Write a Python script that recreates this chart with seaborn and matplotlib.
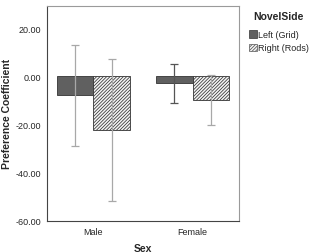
import matplotlib
matplotlib.use("Agg")
import matplotlib.pyplot as plt
import seaborn as sns
import pandas as pd
import numpy as np
from matplotlib.patches import Patch

sex = ["Male", "Female"]
novel_side = ["Left (Grid)", "Right (Rods)"]
means_left = [-7.9, -3.0]
means_right = [-22.3, -10.0]
err_hi_left = [13.1, 5.2]
err_lo_left = [-28.9, -11.1]
err_hi_right = [7.1, 0.4]
err_lo_right = [-51.9, -20.3]
yticks = [20, 0, -20, -40, -60]

sns.set_style("white")
plt.rcParams['font.family'] = ['Liberation Sans', 'DejaVu Sans']
plt.rcParams['hatch.linewidth'] = 0.55

df = pd.DataFrame({
    "Sex": sex * 2,
    "NovelSide": [novel_side[0]] * 2 + [novel_side[1]] * 2,
    "Value": means_left + means_right,
})

HATCH = "//////////"

fig = plt.figure(figsize=(3.09, 2.53), dpi=100)
ax = fig.add_axes([47.3 / 309, 1 - 221.7 / 253, (239 - 47.3) / 309, (221.7 - 6.7) / 253])

sns.barplot(data=df, x="Sex", y="Value", hue="NovelSide", order=sex,
            hue_order=novel_side, palette=["#606060", "#f4f4f4"],
            errorbar=None, width=0.74, edgecolor="#333333", linewidth=0.6,
            legend=False, ax=ax)

conts = list(ax.containers)
for bar in conts[1]:
    bar.set_hatch(HATCH)

# error bars
lows = [err_lo_left, err_lo_right]
highs = [err_hi_left, err_hi_right]
ecolors = [["#a8a8a8", "#555555"], ["#a8a8a8", "#a8a8a8"]]
for k, cont in enumerate(conts):
    for j, bar in enumerate(cont):
        xc = bar.get_x() + bar.get_width() / 2
        lo, hi = lows[k][j], highs[k][j]
        ax.errorbar([xc], [(lo + hi) / 2], yerr=[[(hi - lo) / 2]], fmt="none",
                    ecolor=ecolors[k][j], elinewidth=0.9, capsize=3.2, capthick=0.9)

ax.set_ylim(-60, 29.3)
ax.set_xlim(-0.463, 1.466)
ax.set_yticks(yticks)
ax.set_yticklabels([f"{v:.2f}" for v in yticks], fontsize=6.5)
ax.set_xticks([0, 1])
ax.set_xticklabels(sex, fontsize=6.5)
ax.tick_params(axis="both", length=3, width=0.8, color="#555555", pad=1.5)
ax.set_xlabel("Sex", fontsize=7.5, fontweight="bold")
ax.set_ylabel("Preference Coefficient", fontsize=7.5, fontweight="bold")
ax.xaxis.set_label_coords(0.499, -0.106)
ax.yaxis.set_label_coords(-0.186, 0.503)
for s in ax.spines.values():
    s.set_color("#9a9a9a")
    s.set_linewidth(0.8)
ax.spines["left"].set_color("#444444")
ax.spines["bottom"].set_color("#444444")

handles = [Patch(facecolor="#606060", edgecolor="#333333", linewidth=0.5),
           Patch(facecolor="#f4f4f4", edgecolor="#555555", hatch=HATCH, linewidth=0.5)]
leg = fig.legend(handles, novel_side, title="NovelSide", loc="upper left",
                 bbox_to_anchor=(245 / 309, 1 - 8 / 253), frameon=False,
                 fontsize=6.5, title_fontproperties={"weight": "bold", "size": 7.5},
                 handlelength=0.9, handleheight=0.9, handletextpad=0.15,
                 labelspacing=0.45, borderaxespad=0)
leg._legend_box.align = "center"
leg._legend_box.sep = 7

fig.savefig("out.png", dpi=100)
